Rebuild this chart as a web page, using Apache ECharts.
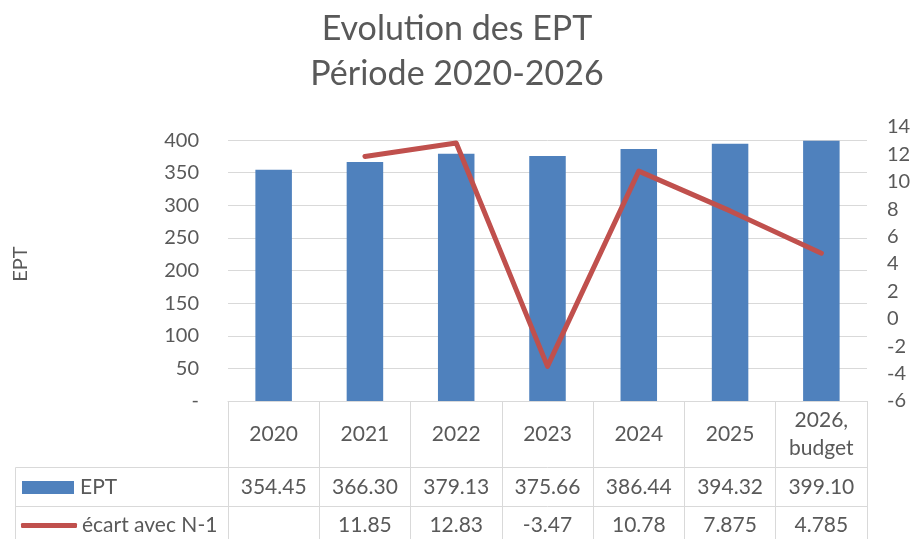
<!DOCTYPE html>
<html>
<head>
<meta charset="utf-8">
<script src="https://cdn.jsdelivr.net/npm/echarts@6/dist/echarts.min.js"></script>
<style>html,body{margin:0;padding:0;background:#fff;}#c{width:914px;height:539px;}</style>
</head>
<body>
<div id="c"></div>
<script>
const categories = ['2020', '2021', '2022', '2023', '2024', '2025', '2026,\nbudget'];
const eptValues = [354.45, 366.30, 379.13, 375.66, 386.44, 394.32, 399.10];
const ecartValues = [null, 11.85, 12.83, -3.47, 10.78, 7.875, 4.785];
const leftTicks = { min: 0, max: 420, interval: 50 };
const rightTicks = { min: -6, max: 14, interval: 2 };
const seriesNames = ['EPT', 'écart avec N-1'];

const FONT = 'Lato';
const TXT = '#595959';
const GRID = '#d9d9d9';
const TABLE_FS = 21;

const eptLabels = eptValues.map(v => v.toFixed(2));
const ecartLabels = ecartValues.map(v => v === null ? '' : String(v));

const chart = echarts.init(document.getElementById('c'));
const splitColors = [];
for (let v = leftTicks.min; v <= leftTicks.max; v += leftTicks.interval) splitColors.push(GRID);
splitColors.push('rgba(0,0,0,0)');

chart.setOption({
  animation: false,
  textStyle: { fontFamily: FONT, color: TXT },
  title: {
    text: 'Evolution des EPT\nPériode 2020-2026',
    left: 'center', top: 2,
    textStyle: { fontFamily: FONT, fontSize: 34, fontWeight: 'normal', color: TXT, lineHeight: 45 }
  },
  grid: { left: 228, right: 47, top: 127, bottom: 138, containLabel: false },
  legend: [
    { data: [{ name: seriesNames[0], icon: 'rect' }], left: 22, top: 477, padding: 0, itemWidth: 52, itemHeight: 13, itemGap: 0,
      textStyle: { fontFamily: FONT, fontSize: TABLE_FS, color: TXT, padding: [0, 0, 0, 1] }, selectedMode: false },
    { data: [{ name: seriesNames[1], icon: 'roundRect' }], left: 21, top: 515, padding: 0, itemWidth: 56, itemHeight: 5, itemGap: 0,
      textStyle: { fontFamily: FONT, fontSize: TABLE_FS, color: TXT, padding: [0, 0, 0, 0] }, selectedMode: false }
  ],
  xAxis: [
    { type: 'category', data: categories, position: 'bottom', boundaryGap: true,
      axisLine: { show: true, onZero: false, lineStyle: { color: GRID, width: 1 } },
      axisTick: { show: true, length: 140, lineStyle: { color: GRID } },
      axisLabel: { interval: 0, margin: 33, verticalAlign: 'middle', fontFamily: FONT, fontSize: TABLE_FS, color: TXT, lineHeight: 28 } },
    { type: 'category', data: eptLabels, position: 'bottom', offset: 66, boundaryGap: true,
      axisLine: { show: true, onZero: false, lineStyle: { color: GRID, width: 1 } },
      axisTick: { show: false },
      axisLabel: { interval: 0, margin: 20, verticalAlign: 'middle', fontFamily: FONT, fontSize: TABLE_FS, color: TXT } },
    { type: 'category', data: ecartLabels, position: 'bottom', offset: 105, boundaryGap: true,
      axisLine: { show: true, onZero: false, lineStyle: { color: GRID, width: 1 } },
      axisTick: { show: false },
      axisLabel: { interval: 0, margin: 19, verticalAlign: 'middle', fontFamily: FONT, fontSize: TABLE_FS, color: TXT } }
  ],
  yAxis: [
    { type: 'value', min: leftTicks.min, max: leftTicks.max, interval: leftTicks.interval,
      name: 'EPT', nameLocation: 'middle', nameGap: 197, nameRotate: 90,
      nameTextStyle: { fontFamily: FONT, fontSize: 20, color: TXT },
      axisLine: { show: false }, axisTick: { show: false },
      splitLine: { show: true, lineStyle: { color: splitColors, width: 1 } },
      axisLabel: { margin: 29, fontFamily: FONT, fontSize: 20, color: TXT, showMaxLabel: false,
        formatter: v => v === 0 ? '-' : (v > 400 ? '' : String(v)) } },
    { type: 'value', min: rightTicks.min, max: rightTicks.max, interval: rightTicks.interval, position: 'right',
      axisLine: { show: false }, axisTick: { show: false }, splitLine: { show: false },
      axisLabel: { margin: 20, align: 'left', fontFamily: FONT, fontSize: 20, color: TXT } }
  ],
  graphic: [
    { type: 'line', shape: { x1: 15.5, y1: 467.5, x2: 228, y2: 467.5 }, style: { stroke: GRID, lineWidth: 1 }, silent: true },
    { type: 'line', shape: { x1: 15.5, y1: 506.5, x2: 228, y2: 506.5 }, style: { stroke: GRID, lineWidth: 1 }, silent: true },
    { type: 'line', shape: { x1: 15.5, y1: 467.5, x2: 15.5, y2: 539 }, style: { stroke: GRID, lineWidth: 1 }, silent: true }
  ],
  series: [
    { name: seriesNames[0], type: 'bar', xAxisIndex: 0, yAxisIndex: 0, data: eptValues, barWidth: '40%',
      itemStyle: { color: '#4f81bd' } },
    { name: seriesNames[1], type: 'line', xAxisIndex: 0, yAxisIndex: 1, data: ecartValues, showSymbol: false, symbol: 'none',
      lineStyle: { color: '#c0504d', width: 5, cap: 'round', join: 'round' }, itemStyle: { color: '#c0504d' } }
  ]
});
</script>
</body>
</html>
